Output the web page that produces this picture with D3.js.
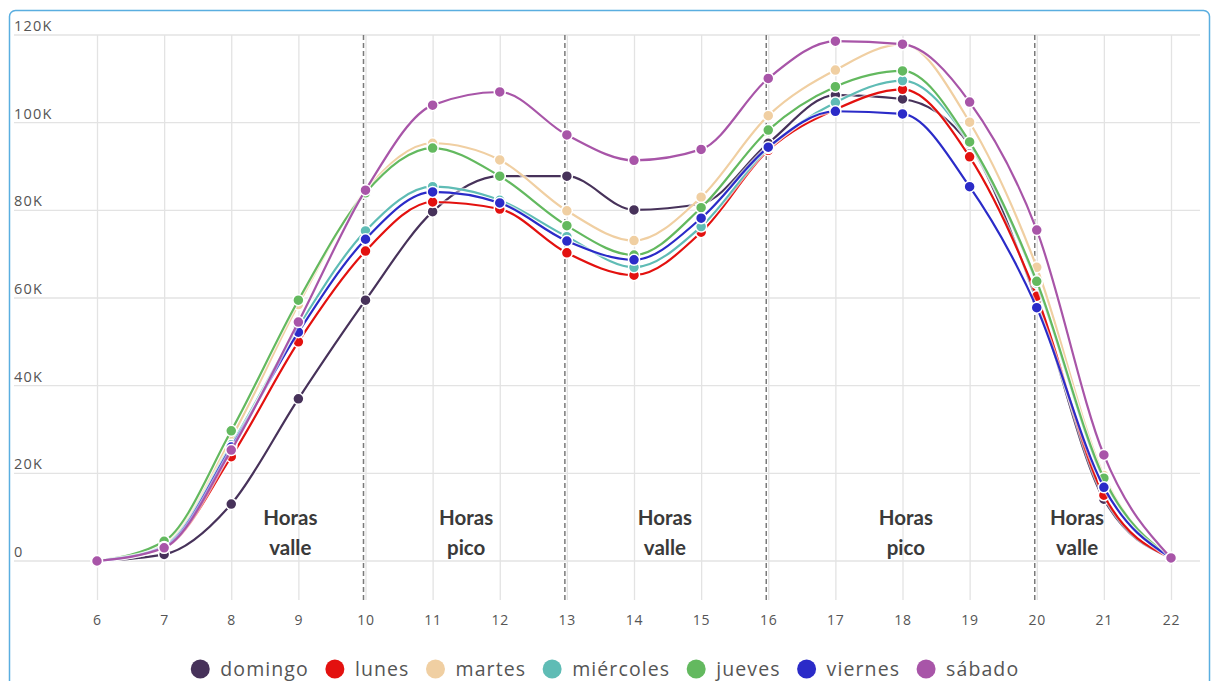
<!DOCTYPE html>
<html><head><meta charset="utf-8">
<script src="https://cdn.jsdelivr.net/npm/d3@7"></script>
<style>body{margin:0;background:#fff;}svg{display:block;}</style>
</head><body>
<svg id="c" width="1213" height="681"></svg>
<script>
const hours = [6,7,8,9,10,11,12,13,14,15,16,17,18,19,20,21,22];
const seriesNames = ["domingo","lunes","martes","miércoles","jueves","viernes","sábado"];
const seriesColors = ["#47325a","#e3110f","#f0cfa2","#5fbcb5","#63b95f","#2b2bc8","#a855a8"];
const domingo   = [0,1500,13000,37000,59500,79700,87800,87800,80100,81500,95300,106300,105400,94900,59500,14100,700];
const lunes     = [0,3000,23800,50000,70700,81900,80300,70300,65200,75000,93700,103000,107600,92200,60400,15000,700];
const martes    = [0,4000,28000,58500,84500,95300,91500,79900,73100,83000,101600,112000,117900,100100,67000,19500,700];
const miercoles = [0,3500,26500,53400,75300,85400,82300,74000,67000,76300,94200,104600,109600,95300,63400,18500,700];
const jueves    = [0,4500,29700,59500,84000,94200,87800,76500,69800,80600,98300,108200,111800,95600,63800,18900,700];
const viernes   = [0,3200,26000,52200,73400,84200,81700,73000,68700,78200,94400,102600,102000,85400,57800,16800,700];
const sabado    = [0,3000,25300,54500,84600,104000,107000,97200,91400,93900,110100,118600,117900,104700,75500,24200,700];
const seriesValues = [domingo,lunes,martes,miercoles,jueves,viernes,sabado];
const yTicks = [0,20000,40000,60000,80000,100000,120000];
const yTickLabels = ["0","20K","40K","60K","80K","100K","120K"];
const dividerHours = [10,13,16,20];
const annotationHours = [8.88,11.5,14.46,18.05,20.6];
const annotationLines = [["Horas","valle"],["Horas","pico"],["Horas","valle"],["Horas","pico"],["Horas","valle"]];

const svg = d3.select("#c");
svg.append("rect").attr("x",9.5).attr("y",10.5).attr("width",1200).attr("height",700)
  .attr("rx",6).attr("fill","#fff").attr("stroke","#5aaee0").attr("stroke-width",1.5);

const x = d3.scaleLinear().domain([6,22]).range([97,1171]);
const y = d3.scaleLinear().domain([0,120000]).range([561,35]);

const gy = svg.append("g");
gy.selectAll("line").data(yTicks).join("line")
  .attr("x1",14).attr("x2",1200).attr("y1",d=>y(d)).attr("y2",d=>y(d))
  .attr("stroke","#e3e3e3").attr("stroke-width",1.3);
gy.selectAll("text").data(yTicks).join("text")
  .attr("x",14).attr("y",d=>y(d)-4).text((d,i)=>yTickLabels[i])
  .attr("font-family","Open Sans, sans-serif").attr("font-size",14.5).attr("letter-spacing",1.2).attr("fill","#555");

const xAxis = d3.axisBottom(x).tickValues(hours).tickSize(-(600-35)).tickPadding(15).tickFormat(d3.format("d"));
const ga = svg.append("g").attr("transform","translate(0,600)").call(xAxis);
ga.select(".domain").remove();
ga.selectAll(".tick line").attr("stroke","#e3e3e3").attr("stroke-width",1.3);
ga.selectAll(".tick text").attr("font-family","Open Sans, sans-serif").attr("font-size",14).attr("letter-spacing",0.8).attr("fill","#555");

svg.append("g").selectAll("line").data(dividerHours).join("line")
  .attr("x1",d=>x(d)-2).attr("x2",d=>x(d)-2).attr("y1",35).attr("y2",603)
  .attr("stroke","#7a7a7a").attr("stroke-width",1.5).attr("stroke-dasharray","5,3");

const an = svg.append("g").selectAll("text").data(annotationHours).join("text")
  .attr("text-anchor","middle").attr("font-family","Lato, sans-serif").attr("font-weight","bold")
  .attr("font-size",20.5).attr("fill","#3a3a3a");
an.each(function(d,i){
  const t = d3.select(this);
  annotationLines[i].forEach((ln,j)=>{
    t.append("tspan").attr("x",x(d)).attr("y",525+j*30).text(ln);
  });
});

const line = d3.line().x((d,i)=>x(hours[i])).y(d=>y(d)).curve(d3.curveMonotoneX);
const gl = svg.append("g");
seriesValues.forEach((vals,k)=>{
  const g = gl.append("g");
  g.append("path").attr("d",line(vals)).attr("fill","none").attr("stroke","#fff").attr("stroke-width",4.5).attr("opacity",0.6);
  g.append("path").attr("d",line(vals)).attr("fill","none").attr("stroke",seriesColors[k]).attr("stroke-width",2.2);
  g.selectAll("circle").data(vals).join("circle")
    .attr("cx",(d,i)=>x(hours[i])).attr("cy",d=>y(d)).attr("r",5.5)
    .attr("fill",seriesColors[k]).attr("stroke","#fff").attr("stroke-width",1.5);
});

const lg = svg.append("g");
let cx = 0;
seriesNames.forEach((n,i)=>{
  const it = lg.append("g");
  it.append("circle").attr("cx",cx).attr("cy",0).attr("r",9.5).attr("fill",seriesColors[i]);
  const t = it.append("text").attr("x",cx+20).attr("y",7).text(n)
    .attr("font-family","Open Sans, sans-serif").attr("font-size",19.5).attr("letter-spacing",1.1).attr("fill","#555");
  const w = t.node().getComputedTextLength();
  cx += 20 + w + 26;
});
const totalW = cx - 26 + 9.5;
lg.attr("transform",`translate(${605 - totalW/2 + 9.5},669)`);
</script>
</body></html>
